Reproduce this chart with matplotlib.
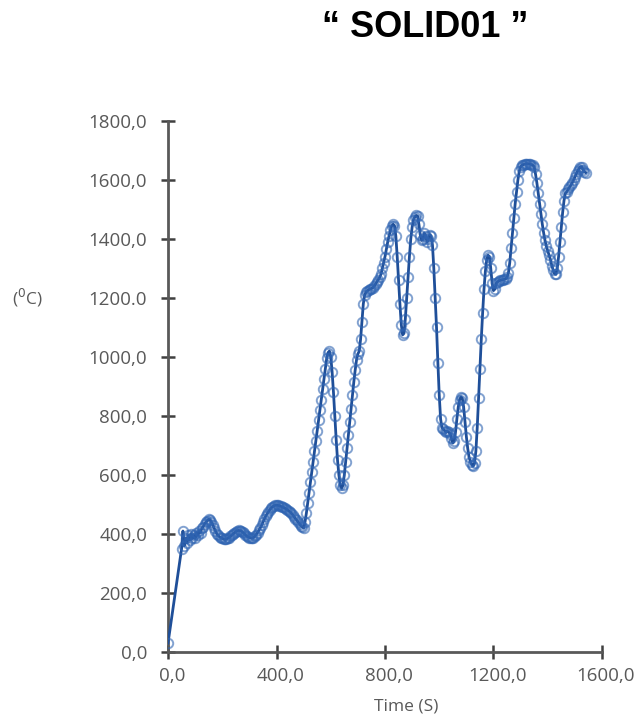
import matplotlib
matplotlib.use("Agg")
import matplotlib.pyplot as plt
import matplotlib.transforms as mtransforms

# Furnace thermocouple record for sample SOLID01.
# First reading at t = 0 s, then one reading every 5 s from t = 50 s.
time_s = [0] + list(range(50, 1545, 5))
temp_c = [
    30,
    350, 410, 360, 385, 370, 395, 380, 400, 385, 395,            # 50-95
    385, 405, 395, 410, 405, 420, 425, 435, 440, 445,            # 100-145
    450, 448, 440, 432, 420, 410, 400, 395, 390, 388,            # 150-195
    385, 383, 382, 383, 385, 388, 392, 396, 400, 404,            # 200-245
    408, 411, 412, 411, 410, 406, 402, 397, 393, 390,            # 250-295
    388, 387, 386, 388, 392, 398, 405, 412, 420, 430,            # 300-345
    440, 450, 460, 468, 475, 482, 488, 492, 495, 497,            # 350-395
    498, 497, 496, 494, 492, 490, 488, 485, 482, 478,            # 400-445
    475, 470, 465, 458, 452, 446, 440, 434, 428, 424,            # 450-495
    420, 440, 470, 505, 540, 575, 610, 645, 680, 715,            # 500-545
    750, 785, 820, 855, 890, 925, 960, 995, 1015, 1020,          # 550-595
    1000, 950, 880, 800, 720, 650, 600, 565, 555, 565,           # 600-645
    600, 645, 690, 735, 780, 825, 870, 915, 955, 990,            # 650-695
    1010, 1020, 1060, 1120, 1180, 1210, 1220, 1224, 1228, 1230,  # 700-745
    1232, 1235, 1240, 1247, 1255, 1262, 1270, 1280, 1300, 1320,  # 750-795
    1340, 1365, 1390, 1410, 1430, 1445, 1450, 1445, 1410, 1340,  # 800-845
    1260, 1180, 1110, 1075, 1080, 1130, 1200, 1270, 1340, 1400,  # 850-895
    1440, 1465, 1475, 1480, 1478, 1450, 1415, 1395, 1400, 1420,  # 900-945
    1410, 1390, 1400, 1415, 1410, 1380, 1300, 1200, 1100, 980,   # 950-995
    870, 790, 760, 755, 750, 745, 748, 745, 740, 725,            # 1000-1045
    708, 715, 745, 790, 830, 855, 865, 860, 830, 780,            # 1050-1095
    730, 690, 660, 645, 635, 630, 640, 680, 760, 860,            # 1100-1145
    960, 1060, 1150, 1230, 1290, 1330, 1345, 1340, 1300, 1250,   # 1150-1195
    1225, 1230, 1250, 1255, 1258, 1260, 1261, 1262, 1264, 1265,  # 1200-1245
    1270, 1285, 1320, 1370, 1420, 1470, 1520, 1560, 1600, 1630,  # 1250-1295
    1645, 1650, 1652, 1654, 1655, 1655, 1655, 1654, 1652, 1650,  # 1300-1345
    1645, 1620, 1590, 1555, 1520, 1485, 1450, 1420, 1395, 1375,  # 1350-1395
    1360, 1345, 1330, 1310, 1295, 1282, 1280, 1300, 1340, 1390,  # 1400-1445
    1440, 1490, 1530, 1555, 1560, 1568, 1575, 1582, 1590, 1600,  # 1450-1495
    1610, 1620, 1630, 1638, 1645, 1645, 1635, 1628, 1625,        # 1500-1540
]

x_ticks = [0, 400, 800, 1200, 1600]
x_tick_labels = ["0,0", "400,0", "800,0", "1200,0", "1600,0"]
y_ticks = [0, 200, 400, 600, 800, 1000, 1200, 1400, 1600, 1800]
y_tick_labels = ["0,0", "200,0", "400,0", "600,0", "800,0", "1000,0",
                 "1200.0", "1400,0", "1600,0", "1800,0"]

GRAY = "#595959"
LINE = "#1f4f99"
MARK = "#2f64b2"

fig = plt.figure(figsize=(6.35, 7.22), dpi=100)
ax = fig.add_axes([0.2646, 0.0970, 0.6834, 0.7354])

ax.plot(time_s, temp_c, color=LINE, lw=2.0, zorder=3)
ax.plot(time_s, temp_c, ls="none", marker="o", ms=6.8, mfc="none",
        mec=MARK, mew=1.4, alpha=0.6, zorder=4)

ax.set_xlim(0, 1600)
ax.set_ylim(0, 1800)
ax.set_xticks(x_ticks)
ax.set_xticklabels(x_tick_labels)
ax.set_yticks(y_ticks)
ax.set_yticklabels(y_tick_labels)

for side in ("top", "right"):
    ax.spines[side].set_visible(False)
for side in ("left", "bottom"):
    ax.spines[side].set_color(GRAY)
    ax.spines[side].set_linewidth(2.0)
    ax.spines[side].set_clip_on(False)

ax.tick_params(axis="both", direction="inout", length=10, width=1.8,
               color="#404040", labelcolor=GRAY, labelsize=13.5)
ax.tick_params(axis="y", pad=10)
ax.tick_params(axis="x", pad=6)
for lab in ax.get_xticklabels() + ax.get_yticklabels():
    lab.set_fontfamily("Open Sans")

shift = mtransforms.ScaledTranslation(4 / 100, 0, fig.dpi_scale_trans)
for lab in ax.get_xticklabels():
    lab.set_transform(lab.get_transform() + shift)

fig.text(0.669, 0.962, "\u201c SOLID01 \u201d", ha="center", va="center",
         fontsize=26, fontweight="bold", family="Liberation Sans", color="black")
fig.text(0.044, 0.587, "($^0$C)", ha="center", va="center", fontsize=12.5,
         family="Open Sans", color=GRAY)
fig.text(0.639, 0.022, "Time (S)", ha="center", va="center", fontsize=12.5,
         family="Open Sans", color=GRAY)

fig.savefig("out.png", dpi=100, facecolor="white")
